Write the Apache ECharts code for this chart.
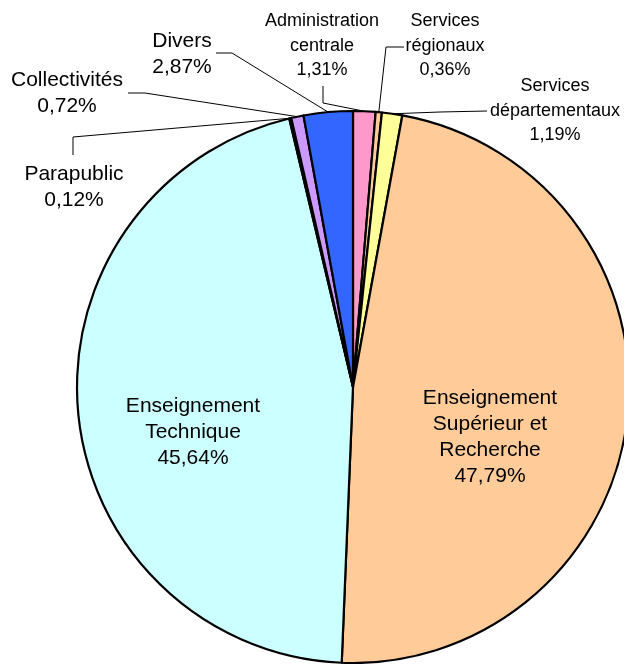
<!DOCTYPE html>
<html>
<head>
<meta charset="utf-8">
<script src="https://cdn.jsdelivr.net/npm/echarts@6/dist/echarts.min.js"></script>
<style>
html,body{margin:0;padding:0;background:#fff;}
#chart{width:624px;height:664px;}
</style>
</head>
<body>
<div id="chart"></div>
<script>
// ---- data ----
const categories = [
  'Administration\ncentrale',
  'Services\nrégionaux',
  'Services\ndépartementaux',
  'Enseignement\nSupérieur et\nRecherche',
  'Enseignement\nTechnique',
  'Parapublic',
  'Collectivités',
  'Divers'
];
const values = [1.31, 0.36, 1.19, 47.79, 45.64, 0.12, 0.72, 2.87];

// ---- styles / layout ----
const colors = ['#FF99CC', '#FFCC99', '#FFFF99', '#FFCC99', '#CCFFFF', '#FFFFFF', '#CC99FF', '#3366FF'];
const insideLabel = [false, false, false, true, true, false, false, false];
const labelFont = [18, 18, 18, 21, 21, 21, 21, 21];
const labelLH = [24.5, 24.5, 24.5, 26, 26, 26.5, 26.5, 26];
const labelPos = [
  [322, 46], [445, 46], [555, 111], [490, 437], [193, 432], [74, 187], [67, 93], [182, 54]
];
const linePts = [
  [[323, 103], [323, 86]],
  [[386, 47], [404, 47]],
  [[440, 112], [487, 111]],
  null, null,
  [[73, 137], [73, 155]],
  [[145, 93], [128, 93]],
  [[232, 53], [216, 53]]
];

function fmt(v) { return v.toFixed(2).replace('.', ',') + '%'; }

const seriesData = categories.map((c, i) => ({
  name: c,
  value: values[i],
  itemStyle: { color: colors[i] },
  label: {
    position: insideLabel[i] ? 'inside' : 'outside',
    fontSize: labelFont[i],
    lineHeight: labelLH[i]
  },
  labelLine: { show: !insideLabel[i] }
}));

const chart = echarts.init(document.getElementById('chart'), null, { renderer: 'canvas' });
chart.setOption({
  animation: false,
  backgroundColor: '#fff',
  series: [{
    type: 'pie',
    center: [353, 387],
    radius: 276,
    startAngle: 90,
    clockwise: true,
    avoidLabelOverlap: false,
    minShowLabelAngle: 0,
    itemStyle: { borderColor: '#000', borderWidth: 2.2 },
    emphasis: { disabled: true },
    label: {
      show: true,
      color: '#000',
      fontFamily: 'Liberation Sans, Arial, sans-serif',
      align: 'center',
      formatter: p => p.name + '\n' + fmt(p.value)
    },
    labelLine: {
      show: true,
      length: 10,
      length2: 10,
      lineStyle: { color: '#000', width: 1 }
    },
    labelLayout: function (params) {
      const i = params.dataIndex;
      const res = { x: labelPos[i][0], y: labelPos[i][1], align: 'center', verticalAlign: 'middle' };
      if (linePts[i] && params.labelLinePoints) {
        res.labelLinePoints = [params.labelLinePoints[0], linePts[i][0], linePts[i][1]];
      }
      return res;
    },
    data: seriesData
  }]
});
</script>
</body>
</html>
